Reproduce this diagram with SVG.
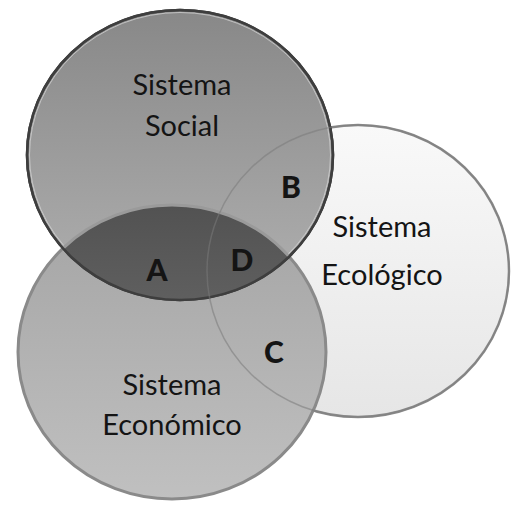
<svg xmlns="http://www.w3.org/2000/svg" width="532" height="508" viewBox="0 0 532 508">
  <style>
    .lbl { font-family: Lato, "Open Sans", sans-serif; font-size: 29px; fill: #141414; text-anchor: middle; }
    .let { font-family: Lato, "Open Sans", sans-serif; font-size: 30px; font-weight: 900; fill: #141414; text-anchor: middle; }
  </style>
  <defs>
    <linearGradient id="gEco" x1="0" y1="0" x2="0" y2="1">
      <stop offset="0" stop-color="#f9f9f9"/>
      <stop offset="1" stop-color="#e6e6e6"/>
    </linearGradient>
    <linearGradient id="gSoc" x1="0" y1="0" x2="0" y2="1">
      <stop offset="0" stop-color="#888888"/>
      <stop offset="1" stop-color="#b0b0b0"/>
    </linearGradient>
    <linearGradient id="gEcn" x1="0" y1="0" x2="0" y2="1">
      <stop offset="0" stop-color="#a4a4a4"/>
      <stop offset="1" stop-color="#c0c0c0"/>
    </linearGradient>
    <linearGradient id="gA" x1="0" y1="0" x2="0" y2="1">
      <stop offset="0" stop-color="#525252"/>
      <stop offset="1" stop-color="#7a7a7a"/>
    </linearGradient>
    <clipPath id="clipSoc">
      <ellipse cx="180" cy="155" rx="153" ry="145"/>
    </clipPath>
  </defs>

  <g id="ecologico">
    <ellipse cx="358" cy="271" rx="151" ry="146" fill="url(#gEco)" stroke="#8e8e8e" stroke-width="2.5"/>
    <text class="lbl" x="382" y="237">Sistema</text>
    <text class="lbl" x="382" y="285">Ecológico</text>
  </g>

  <g id="economico">
    <ellipse cx="172" cy="352" rx="154" ry="147" fill="url(#gEcn)" stroke="#8a8a8a" stroke-width="3"/>
    <text class="lbl" x="172" y="395">Sistema</text>
    <text class="lbl" x="172" y="435">Económico</text>
  </g>

  <g id="social">
    <ellipse cx="180" cy="155" rx="153" ry="145" fill="url(#gSoc)" stroke="#3e3e3e" stroke-width="2.5"/>
    <ellipse cx="180" cy="155" rx="150.5" ry="142.5" fill="none" stroke="#d8d8d8" stroke-width="1" opacity="0.7"/>
    <text class="lbl" x="182" y="95">Sistema</text>
    <text class="lbl" x="182" y="136">Social</text>
  </g>

  <g id="interseccion">
    <ellipse cx="172" cy="352" rx="154" ry="147" fill="url(#gA)" stroke="#9a9a9a" stroke-width="3" clip-path="url(#clipSoc)"/>
    <ellipse cx="180" cy="155" rx="153" ry="145" fill="none" stroke="#3e3e3e" stroke-width="2.5"/>
    <ellipse cx="358" cy="271" rx="151" ry="146" fill="none" stroke="#7a7a7a" stroke-width="1.5" opacity="0.55"/>
  </g>

  <g id="letras">
    <text class="let" x="291" y="198">B</text>
    <text class="let" x="157" y="281">A</text>
    <text class="let" x="242" y="271">D</text>
    <text class="let" x="274" y="363">C</text>
  </g>
</svg>
